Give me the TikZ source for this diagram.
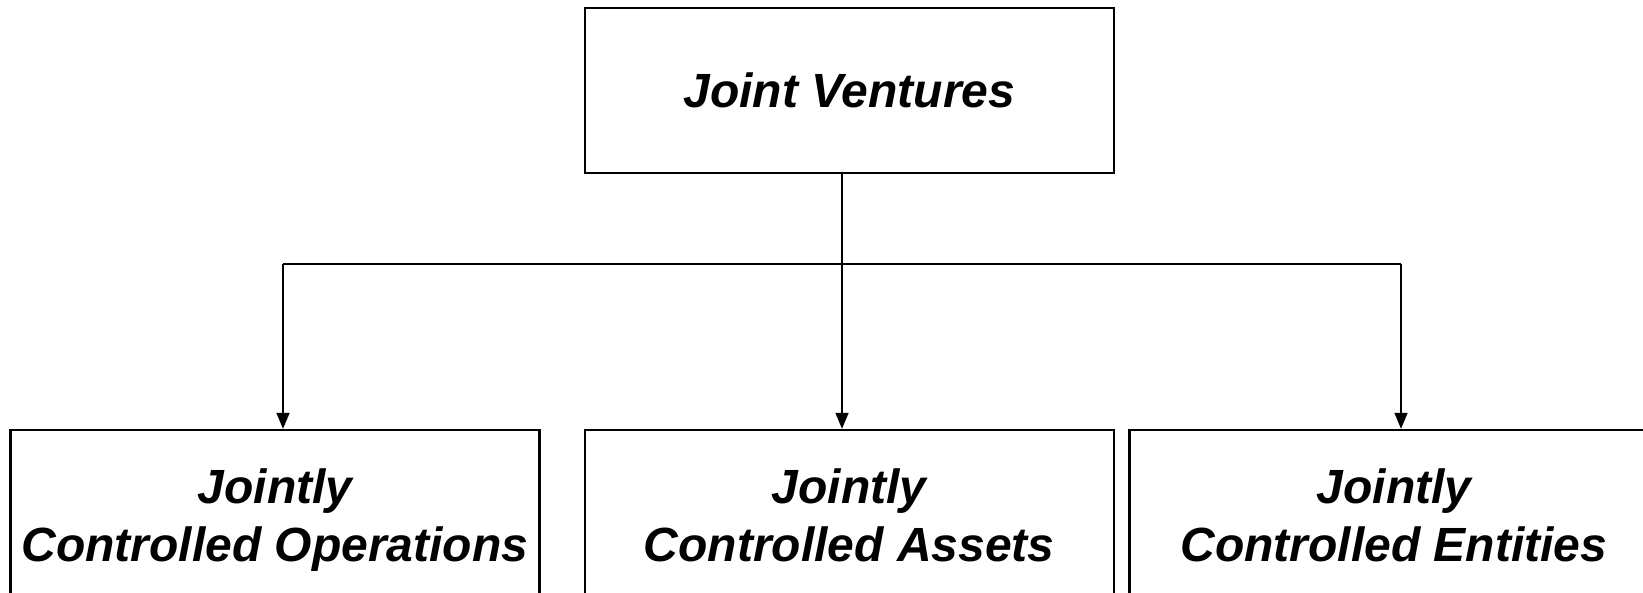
\documentclass[tikz,border=0pt]{standalone}
\usepackage{fontspec}
\setmainfont{Liberation Sans}
\usetikzlibrary{arrows.meta,positioning}
\tikzset{
  caja/.style={draw=black,line width=1.2pt,minimum width=264.5pt,align=center,
    inner sep=0pt,font=\fontsize{24}{29}\selectfont\bfseries\itshape},
  cajab/.style={caja,minimum height=90pt,execute at end node={\vphantom{p}}},
  enlace/.style={line width=0.8pt},
  flecha/.style={enlace,-{Triangle[length=8pt,width=6.5pt]}}
}
\begin{document}
\begin{tikzpicture}[x=0.5pt,y=-0.5pt]
\useasboundingbox (0,0) rectangle (1643,593);
\clip (0,0) rectangle (1643,593);
% caja superior
\node[caja,minimum height=82.5pt] (jv) at (849.3,90.5) {Joint Ventures};
% cajas inferiores
\node[cajab] (jco) at (275,520) {Jointly\\Controlled Operations};
\node[cajab] (jca) at (849.3,520) {Jointly\\Controlled Assets};
\node[cajab] (jce) at (1394,520) {Jointly\\Controlled Entities};
% conectores
\coordinate (tapL) at (283,264);
\coordinate (tapM) at (842,264);
\coordinate (tapR) at (1401,264);
\draw[enlace] (jv.south -| tapM) -- (tapM);
\draw[enlace] (tapL) -- (tapR);
\foreach \t/\b in {tapL/jco,tapM/jca,tapR/jce}
  \draw[flecha] (\t) -- (\t |- \b.north);
\end{tikzpicture}
\end{document}
